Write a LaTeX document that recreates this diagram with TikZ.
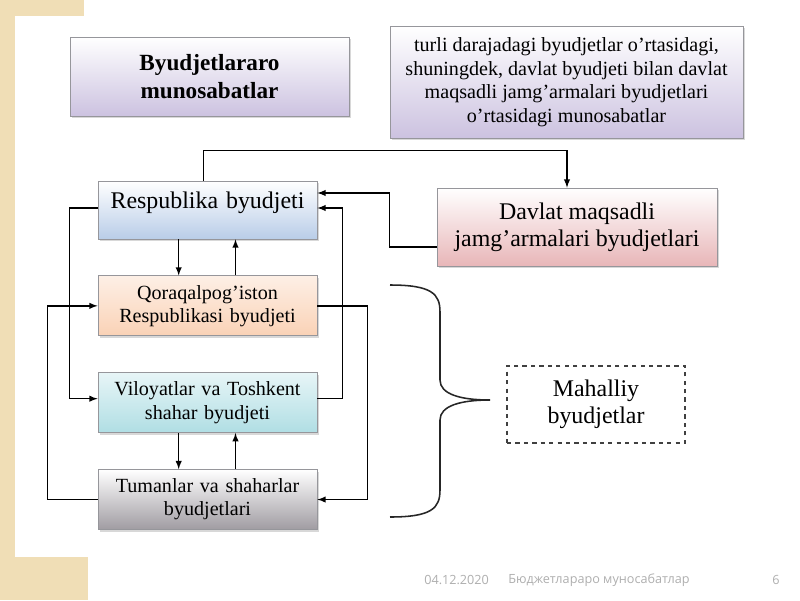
\documentclass[tikz,border=0pt]{standalone}
\usepackage{fontspec}
\setmainfont{Liberation Serif}
\newfontfamily\footfont{Open Sans}
\usepackage{tikz}
\usetikzlibrary{positioning,shadows}
\definecolor{slidebeige}{RGB}{240,222,182}
\definecolor{boxline}{RGB}{150,150,155}
\definecolor{lavender}{RGB}{204,194,224}
\definecolor{respblue}{RGB}{185,205,232}
\definecolor{davlpink}{RGB}{232,182,184}
\definecolor{qorapeach}{RGB}{250,210,182}
\definecolor{vilocyan}{RGB}{176,222,228}
\definecolor{tumangrey}{RGB}{160,156,162}
\definecolor{footgrey}{RGB}{175,175,175}

\begin{document}
\begin{tikzpicture}[node distance=0.9cm, >=latex,
	main box/.style={draw=boxline, line width=0.6pt, align=center, inner sep=2pt,
		drop shadow={shadow xshift=1.2pt, shadow yshift=-1.5pt, opacity=0.3}},
	level box/.style={main box, minimum width=5.475cm, minimum height=1.5cm, text width=5.3cm,
		font=\fontsize{14.3}{16.5}\selectfont},
	foot/.style={font=\footfont\fontsize{9}{11}\selectfont, text=footgrey, anchor=west, inner sep=0pt},
	link/.style={->, line width=1pt}]
	
	\useasboundingbox (0,0) rectangle (20,-15);
	\fill[white] (0,0) rectangle (20,-15);
	\fill[slidebeige] (0,0) rectangle (0.375,-15);
	\fill[slidebeige] (0,0) rectangle (2.1,-0.4);
	\fill[slidebeige] (0,-13.925) rectangle (2.2,-15);
	
	\node[main box, top color=white, bottom color=lavender, minimum width=6.975cm, minimum height=1.975cm,
		font=\bfseries\fontsize{16.5}{20}\selectfont] (title) at (5.2375,-1.9125) {Byudjetlararo\\munosabatlar};
	\node[main box, top color=white, bottom color=lavender, minimum width=8.825cm, minimum height=2.8cm,
		font=\fontsize{14.3}{16.7}\selectfont] (defn) at (14.1625,-2.05)
		{turli darajadagi byudjetlar o’rtasidagi,\\shuningdek, davlat byudjeti bilan davlat\\maqsadli jamg’armalari byudjetlari\\o’rtasidagi munosabatlar};
	
	\node[level box, top color=white, bottom color=respblue, minimum height=1.45cm, text depth=0.5cm,
		font=\fontsize{17}{20}\selectfont] (resp) at (5.1875,-5.25) {Respublika byudjeti};
	\node[level box, top color=qorapeach!35, bottom color=qorapeach] (qora) [below=of resp] {Qoraqalpog’iston\\Respublikasi byudjeti};
	\node[level box, top color=vilocyan!30, bottom color=vilocyan] (vilo) [below=of qora] {Viloyatlar va Toshkent\\shahar byudjeti};
	\node[level box, top color=white, bottom color=tumangrey] (tuman) [below=of vilo] {Tumanlar va shaharlar\\byudjetlari};
	
	\node[main box, top color=white, bottom color=davlpink, minimum width=7cm, minimum height=1.95cm,
		font=\fontsize{17}{19.5}\selectfont] (davl) at (14.425,-5.675) {Davlat maqsadli\\jamg’armalari byudjetlari};
	\node[draw=black!75, dashed, line width=0.8pt, minimum width=4.45cm, minimum height=1.925cm, align=center,
		font=\fontsize{17}{19.5}\selectfont] (mahal) at (14.9,-10.1125) {Mahalliy\\byudjetlar};
	
	% brace
	\draw[line width=1.1pt, black!85] (9.75,-7.125) .. controls (10.8,-7.125) and (11,-7.35) .. (11,-7.8)
		-- (11,-9.5) .. controls (11,-9.85) and (11.5,-10) .. (12.25,-10)
		.. controls (11.5,-10) and (11,-10.15) .. (11,-10.5)
		-- (11,-12.25) .. controls (11,-12.7) and (10.8,-12.925) .. (9.75,-12.925);
	
	\draw[link] ([xshift=-0.1cm]resp.north) -- ++(0,0.75) -| ([xshift=-0.25cm]davl.north);
	\draw[link] ([yshift=-0.5cm]davl.west) -- ++(-1.175,0) |- ([yshift=0.425cm]resp.east);
	\draw[link] ([yshift=0.1cm]vilo.east) -- ++(0.625,0) |- ([yshift=0.05cm]resp.east);
	\draw[link] ([yshift=0.05cm]resp.west) -- ++(-0.7,0) |- ([yshift=0.1cm]vilo.west);
	\draw[link] (qora.east) -- ++(1.25,0) |- (tuman.east);
	\draw[link] (tuman.west) -- ++(-1.25,0) |- (qora.west);
	\draw[link] ([xshift=-0.72cm]resp.south) -- ([xshift=-0.72cm]qora.north);
	\draw[link] ([xshift=0.7cm]qora.north) -- ([xshift=0.7cm]resp.south);
	\draw[link] ([xshift=-0.72cm]vilo.south) -- ([xshift=-0.72cm]tuman.north);
	\draw[link] ([xshift=0.7cm]tuman.north) -- ([xshift=0.7cm]vilo.south);
	
	\node[foot] (date) at (10.6,-14.5) {04.12.2020};
	\node[foot] (foottitle) at (12.7,-14.5) {Бюджетлараро муносабатлар};
	\node[foot] (pagenum) at (19.3,-14.5) {6};
\end{tikzpicture}
\end{document}
